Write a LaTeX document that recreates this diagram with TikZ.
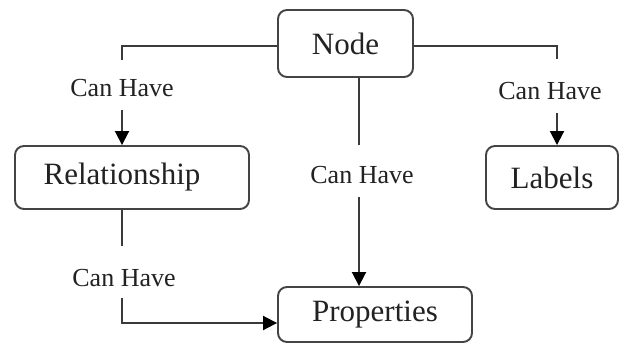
\documentclass[tikz,border=0pt]{standalone}
\usepackage{fontspec}
\setmainfont{Liberation Serif}
\usetikzlibrary{arrows.meta,calc}
\definecolor{linec}{HTML}{3A3A3A}
\definecolor{boxc}{HTML}{444444}
\definecolor{txtc}{HTML}{222222}
\newcommand{\boxfont}{\fontsize{31}{36}\selectfont}
\newcommand{\labfont}{\fontsize{26}{30}\selectfont}
\begin{document}
\begin{tikzpicture}[x=1pt,y=-1pt,
  box/.style={draw=boxc, line width=1.9pt, rounded corners=9pt, font=\boxfont, text=txtc, inner sep=0pt},
  lab/.style={font=\labfont, text=txtc, inner sep=0pt},
  conn/.style={draw=linec, line width=1.9pt},
  arr/.style={conn, -{Triangle[length=14pt,width=14pt,color=black]}}]
\useasboundingbox[fill=white] (0,0) rectangle (620,344);
% boxes
\node[box, minimum width=135pt, minimum height=67pt] (node) at (345.5,43.5) {Node};
\node[box, minimum width=234pt, minimum height=63pt] (rel) at (132,177.5) {Relationship\hspace*{20pt}};
\node[box, minimum width=132pt, minimum height=63pt] (labels) at (552,177.5) {Labels};
\node[box, minimum width=194pt, minimum height=55pt] (prop) at (375,314.5) {Properties};
% labels
\node[lab] (l1) at (122,88) {Can Have};
\node[lab] (l2) at (550,91) {Can Have};
\node[lab] (l3) at (362,175) {Can Have};
\node[lab] (l4) at (124,278) {Can Have};
% helper coordinates
\coordinate (c1) at (122,60);
\coordinate (c2) at (557,59);
\coordinate (c3) at (359,145);
\coordinate (c4) at (122,246);
\coordinate (c5) at (122,298);
\coordinate (c6) at (122,323);
% connectors
\draw[conn] ([yshift=-2.5pt]node.west) -| (c1);
\draw[arr] (c1 |- l1.south) ++(0,13) -- (c1 |- rel.north);
\draw[conn] ([yshift=-2.5pt]node.east) -| (c2);
\draw[arr] (c2 |- l2.south) ++(0,13) -- (c2 |- labels.north);
\draw[conn] (c3 |- node.south) -- (c3);
\draw[arr] (c3 |- l3.south) ++(0,13) -- (c3 |- prop.north);
\draw[conn] (c4 |- rel.south) -- (c4);
\draw[arr] (c5) -- (c6) -- (c6 -| prop.west);
\end{tikzpicture}
\end{document}
